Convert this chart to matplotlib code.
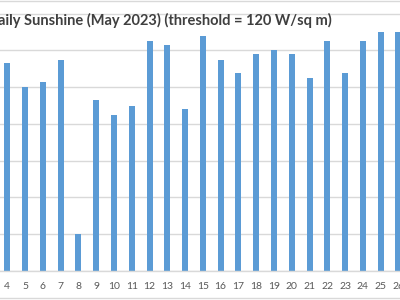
import matplotlib.pyplot as plt
from matplotlib.lines import Line2D

# Daily sunshine hours, May 2023 (only the days visible in the crop)
days = list(range(4, 27))
sunshine_hours = [11.3, 10.0, 10.3, 11.5, 2.0, 9.3, 8.5, 9.0, 12.5, 12.3, 8.8,
                  12.8, 11.5, 10.8, 11.8, 12.0, 11.8, 10.5, 12.5, 10.8, 12.5,
                  13.0, 13.0]
day_labels = [str(d) for d in days]
y_ticks = [0, 2, 4, 6, 8, 10, 12, 14]

bar_color = '#5B9BD5'
grid_color = '#D9D9D9'
text_color = '#595959'

W, H = 400, 300
fig = plt.figure(figsize=(4, 3), dpi=100)

# geometry (pixels)
base_px = 300 - 270.7        # value 0, from bottom
px_per_unit = 36.7 / 2
ytop = 14.6
ax = fig.add_axes([0, base_px / H, 1, ytop * px_per_unit / H])

ax.bar(days, sunshine_hours, width=0.34, color=bar_color, zorder=2)

# x range so that day 4 sits at ~7px and each day is ~17.8px apart
step = 17.78
x0 = 4 - 7.3 / step
ax.set_xlim(x0, x0 + W / step)
ax.set_ylim(0, ytop)

ax.set_yticks(y_ticks)
ax.set_yticklabels([])
ax.yaxis.grid(True, color=grid_color, linewidth=1)
ax.set_axisbelow(True)

ax.set_xticks(days)
ax.set_xticklabels(day_labels, fontsize=7.5, color=text_color, family='Lato')
ax.tick_params(axis='both', length=0)
ax.tick_params(axis='x', pad=8)

for s in ['left', 'right', 'top']:
    ax.spines[s].set_visible(False)
ax.spines['bottom'].set_color(grid_color)
ax.spines['bottom'].set_linewidth(1)

fig.text(332 / W, 1 - 20 / H, 'Daily Sunshine (May 2023) (threshold = 120 W/sq m)',
         ha='right', va='center', fontsize=10.5, fontweight='bold',
         color='#3F3F3F', family='Lato')

# chart border lines at top and bottom of the crop
fig.add_artist(Line2D([0, 1], [1 - 0.5 / H, 1 - 0.5 / H], color=grid_color, linewidth=1))
fig.add_artist(Line2D([0, 1], [2 / H, 2 / H], color=grid_color, linewidth=1))

fig.savefig('out.png', dpi=100)
